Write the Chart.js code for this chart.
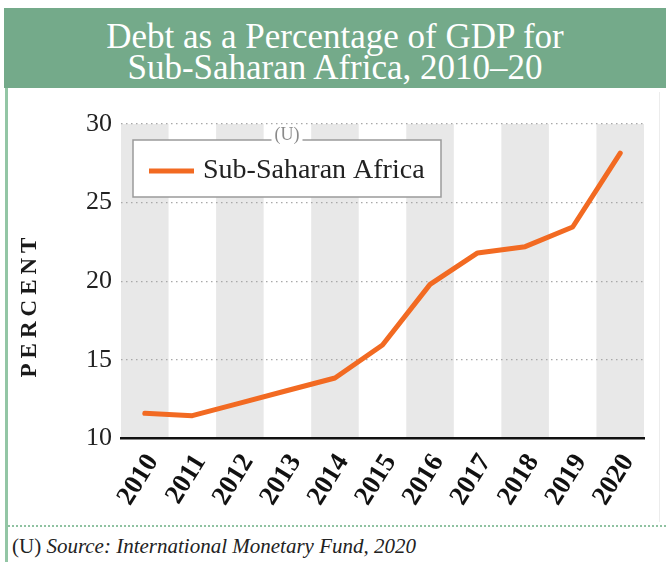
<!DOCTYPE html>
<html>
<head>
<meta charset="utf-8">
<script src="https://cdn.jsdelivr.net/npm/chart.js@4.4.1/dist/chart.umd.min.js"></script>
<style>
  html, body { margin: 0; padding: 0; background: #fff; }
  #page { position: relative; width: 666px; height: 562px; overflow: hidden;
          font-family: "Liberation Serif", "Times New Roman", serif; }
  #header { position: absolute; left: 4px; top: 8px; width: 662px; height: 80px;
            background: #74aa8a; color: #fff; text-align: center;
            font-size: 35px; line-height: 31px; box-sizing: border-box; padding-top: 13px; }
  #leftrule { position: absolute; left: 5px; top: 88px; width: 3px; height: 474px; background: #93c6a5; }
  #rightrule { position: absolute; left: 659px; top: 92px; width: 1px; height: 430px; background: #ececec; }
  #footrule { position: absolute; left: 8px; top: 525px; width: 658px; border-top: 2px dotted #8fc2a1; }
  #source { position: absolute; left: 12px; top: 534px; font-size: 21px; color: #222; white-space: nowrap; }
  #source i { font-style: italic; }
  #wrap { position: absolute; left: 0; top: 89px; width: 666px; height: 434px; }
</style>
</head>
<body>
<div id="page">
  <div id="header">Debt as a Percentage of GDP for<br>Sub-Saharan Africa, 2010–20</div>
  <div id="leftrule"></div>
  <div id="rightrule"></div>
  <div id="wrap"><canvas id="chart"></canvas></div>
  <div id="footrule"></div>
  <div id="source">(U) <i>Source: International Monetary Fund, 2020</i></div>
</div>
<script>
// Years on the horizontal axis
const years = ['2010', '2011', '2012', '2013', '2014', '2015', '2016', '2017', '2018', '2019', '2020'];
// Debt as % of GDP, Sub-Saharan Africa
const debtPct = [11.6, 11.45, 12.25, 13.05, 13.85, 15.95, 19.8, 21.8, 22.2, 23.45, 28.15];
const seriesLabel = 'Sub-Saharan Africa';
// Vertical axis range and tick step
const yMin = 10;
const yMax = 30;
const yStep = 5;
const axisTitle = 'PERCENT';
const markingLabel = '(U)';

const SERIF = "'Liberation Serif', 'Times New Roman', serif";
const ORANGE = '#f26a22';
Chart.defaults.font.family = SERIF;

// Alternating grey column bands, one per year
const bandsPlugin = {
  id: 'bands',
  beforeDraw(chart) {
    const { ctx, chartArea: a, scales: { x } } = chart;
    const n = chart.data.labels.length;
    const w = (a.right - a.left) / n;
    ctx.save();
    ctx.fillStyle = '#e8e8e8';
    for (let i = 0; i < n; i += 2) {
      const cx = x.getPixelForValue(i);
      ctx.fillRect(cx - w / 2, a.top, w, a.bottom - a.top);
    }
    ctx.restore();
  }
};

// Boxed legend inside the plot, marking label and rotated axis title
const overlayPlugin = {
  id: 'overlay',
  afterDraw(chart) {
    const { ctx, chartArea: a } = chart;
    const ds = chart.data.datasets[0];
    const bx = a.left + 12, by = a.top + 16, bw = 308, bh = 57;
    ctx.save();
    ctx.fillStyle = '#fff';
    ctx.fillRect(bx, by, bw, bh);
    ctx.strokeStyle = '#9a9a9a';
    ctx.lineWidth = 1.5;
    ctx.strokeRect(bx, by, bw, bh);

    // series sample
    ctx.strokeStyle = ds.borderColor;
    ctx.lineWidth = 5;
    ctx.lineCap = 'butt';
    ctx.beginPath();
    ctx.moveTo(bx + 16, by + 31);
    ctx.lineTo(bx + 61, by + 31);
    ctx.stroke();
    ctx.fillStyle = '#222';
    ctx.font = '28px ' + SERIF;
    ctx.textBaseline = 'middle';
    ctx.textAlign = 'left';
    ctx.fillText(ds.label, bx + 70, by + 31);

    // marking above the legend box
    ctx.font = '18px ' + SERIF;
    ctx.textAlign = 'center';
    const mx = bx + bw / 2;
    const mw = ctx.measureText(markingLabel).width;
    ctx.fillStyle = '#fff';
    ctx.fillRect(mx - mw / 2 - 3, by - 14, mw + 6, 16);
    ctx.fillStyle = '#8a8a8a';
    ctx.fillText(markingLabel, mx, by - 5);

    // axis title
    ctx.translate(30, a.top + 181);
    ctx.rotate(-Math.PI / 2);
    ctx.fillStyle = '#1a1a1a';
    ctx.font = 'bold 23px ' + SERIF;
    ctx.letterSpacing = '5px';
    ctx.textAlign = 'center';
    ctx.fillText(axisTitle, 0, 0);
    ctx.restore();
  }
};

new Chart(document.getElementById('chart'), {
  type: 'line',
  data: {
    labels: years,
    datasets: [{
      label: seriesLabel,
      data: debtPct,
      borderColor: ORANGE,
      backgroundColor: ORANGE,
      borderWidth: 5,
      borderCapStyle: 'round',
      borderJoinStyle: 'round',
      pointRadius: 0,
      tension: 0,
      fill: false
    }]
  },
  options: {
    responsive: true,
    maintainAspectRatio: false,
    animation: false,
    layout: { padding: { top: 35, right: 22, bottom: 0, left: 0 } },
    plugins: { legend: { display: false }, tooltip: { enabled: false }, title: { display: false } },
    scales: {
      x: {
        type: 'category',
        offset: true,
        grid: { display: false },
        border: { display: true, color: '#111', width: 2.5 },
        ticks: {
          autoSkip: false,
          minRotation: 58,
          maxRotation: 58,
          padding: 2,
          labelOffset: 8,
          color: '#111',
          font: { family: SERIF, size: 27, weight: 'bold' }
        },
        afterFit(scale) { scale.height = 84.5; }
      },
      y: {
        min: yMin,
        max: yMax,
        border: { display: false, dash: [1.5, 3.5] },
        grid: {
          drawTicks: false,
          color: (c) => (c.tick && c.tick.value === yMin) ? 'rgba(0,0,0,0)' : '#a8a8a8',
          lineWidth: 1.2,
        },
        ticks: {
          stepSize: yStep,
          padding: 9,
          color: '#222',
          font: { family: SERIF, size: 26 }
        },
        afterFit(scale) { scale.width = 121; }
      }
    }
  },
  plugins: [bandsPlugin, overlayPlugin]
});
</script>
</body>
</html>
